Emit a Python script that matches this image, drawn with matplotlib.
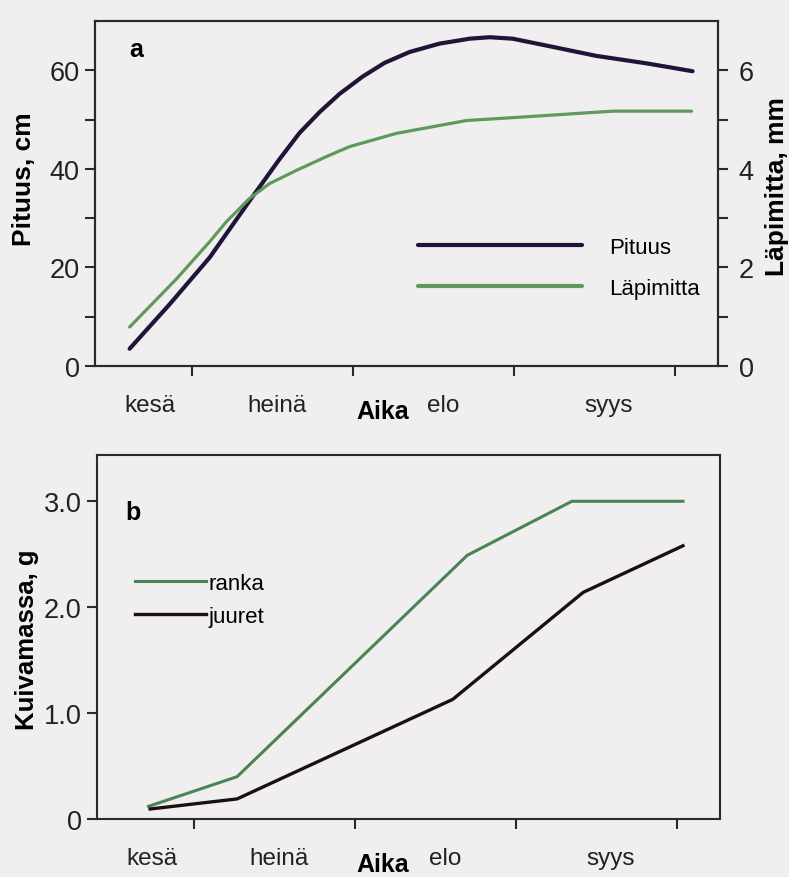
import matplotlib
matplotlib.use("Agg")
import matplotlib.pyplot as plt

plt.rcParams['font.family'] = ['Liberation Sans', 'DejaVu Sans']

# x in "month" units: ticks at 1..4 are the month boundaries
months = ["kesä", "heinä", "elo", "syys"]
month_pos = [0.74, 1.53, 2.56, 3.59]
month_ticks = [1, 2, 3, 4]

# panel a
pituus_x = [0.615, 0.863, 1.112, 1.360, 1.547, 1.671, 1.795, 1.919, 2.062, 2.199, 2.354, 2.540, 2.727,
            2.851, 2.994, 3.205, 3.516, 3.826, 4.112]
pituus_y = [3.5, 12.5, 22.0, 33.5, 42.0, 47.3, 51.5, 55.2, 58.7, 61.5, 63.7, 65.4, 66.4,
            66.7, 66.4, 65.0, 62.9, 61.4, 59.8]
lapimitta_x = [0.615, 0.907, 1.112, 1.217, 1.360, 1.484, 1.652, 1.839, 1.981, 2.273, 2.708, 3.099, 3.615, 4.106]
lapimitta_y = [0.79, 1.77, 2.52, 2.93, 3.40, 3.70, 3.97, 4.25, 4.45, 4.72, 4.98, 5.06, 5.17, 5.17]

# panel b
ranka_x = [0.72, 1.27, 2.70, 3.35, 4.04]
ranka_y = [0.12, 0.40, 2.49, 3.0, 3.0]
juuret_x = [0.73, 1.27, 2.61, 3.42, 4.04]
juuret_y = [0.095, 0.19, 1.13, 2.14, 2.58]

bg = '#f0eeef'
c_pit = '#1e1537'
c_lap = '#5f9a5c'
c_ranka = '#4a8455'
c_juur = '#1a1012'
c_axis = '#2a2a2a'

fig = plt.figure(figsize=(7.89, 8.78), dpi=100, facecolor=bg)


def style_axes(ax):
    ax.set_facecolor(bg)
    for s in ax.spines.values():
        s.set_color(c_axis)
        s.set_linewidth(1.5)
    ax.set_xlim(0.4, 4.27)
    ax.set_xticks(month_ticks)
    ax.set_xticklabels([])
    ax.set_xticks(month_pos, minor=True)
    ax.set_xticklabels(months, minor=True)
    ax.tick_params(axis='x', which='major', direction='out', length=7, width=1.5, color=c_axis)
    ax.tick_params(axis='x', which='minor', length=0, pad=20, labelsize=17.5, labelcolor='#222222')
    ax.tick_params(axis='y', which='both', direction='out', width=1.5, color=c_axis,
                   labelsize=19.5, labelcolor='#222222', pad=4)
    ax.tick_params(axis='y', which='major', length=7)
    ax.tick_params(axis='y', which='minor', length=7)


# ---- a ----
ax1 = fig.add_axes([0.1204, 0.582, 0.7896, 0.393])
style_axes(ax1)
ax1.set_ylim(0, 70)
ax1.set_yticks([0, 20, 40, 60])
ax1.set_yticks([10, 30, 50], minor=True)
ax1.plot(pituus_x, pituus_y, '-', color=c_pit, linewidth=3.0, label="Pituus",
         solid_capstyle='round', solid_joinstyle='round')
ax1.set_ylabel("Pituus, cm", fontsize=19, fontweight='bold', va='center')
ax1.yaxis.set_label_coords(-0.114, 0.545)
ax1.set_xlabel("Aika", fontsize=18, fontweight='bold')
ax1.xaxis.set_label_coords(0.462, -0.13)
ax1.xaxis.label.set_va('center')
ax1.text(0.066, 0.919, "a", transform=ax1.transAxes, fontsize=18, fontweight='bold',
         ha='center', va='center')

ax2 = ax1.twinx()
ax2.set_ylim(0, 7)
ax2.set_yticks([0, 2, 4, 6])
ax2.set_yticks([1, 3, 5], minor=True)
for s in ax2.spines.values():
    s.set_color(c_axis)
    s.set_linewidth(1.5)
ax2.tick_params(axis='y', which='both', direction='out', length=7, width=1.5, color=c_axis,
                labelsize=19.5, labelcolor='#222222', pad=8)
ax2.plot(lapimitta_x, lapimitta_y, '-', color=c_lap, linewidth=2.3, label="Läpimitta",
         solid_capstyle='round', solid_joinstyle='round')
ax2.set_ylabel("Läpimitta, mm", fontsize=19, fontweight='bold', va='center', rotation=90)
ax2.yaxis.set_label_coords(1.094, 0.523)

h1, l1 = ax1.get_legend_handles_labels()
h2, l2 = ax2.get_legend_handles_labels()
leg = ax2.legend(h1 + h2, l1 + l2, loc='center left', bbox_to_anchor=(0.518, 0.284),
                 frameon=False, fontsize=16, handlelength=7.4, handletextpad=1.2,
                 labelspacing=0.88, borderpad=0, borderaxespad=0)
leg.get_lines()[1].set_linewidth(3.0)

# ---- b ----
ax3 = fig.add_axes([0.123, 0.066, 0.7895, 0.415])
style_axes(ax3)
ax3.set_ylim(0, 3.44)
ax3.set_yticks([0, 1.0, 2.0, 3.0])
ax3.set_yticklabels(["0", "1.0", "2.0", "3.0"])
ax3.plot(ranka_x, ranka_y, '-', color=c_ranka, linewidth=2.2, label="ranka")
ax3.plot(juuret_x, juuret_y, '-', color=c_juur, linewidth=2.4, label="juuret")
ax3.set_ylabel("Kuivamassa, g", fontsize=18.5, fontweight='bold', va='center')
ax3.yaxis.set_label_coords(-0.113, 0.495)
ax3.set_xlabel("Aika", fontsize=18, fontweight='bold')
ax3.xaxis.set_label_coords(0.459, -0.124)
ax3.xaxis.label.set_va('center')
ax3.text(0.058, 0.843, "b", transform=ax3.transAxes, fontsize=18, fontweight='bold',
         ha='center', va='center')
ax3.legend(loc='center left', bbox_to_anchor=(0.061, 0.602), frameon=False, fontsize=16,
           handlelength=3.2, handletextpad=0.1, labelspacing=0.55, borderpad=0, borderaxespad=0)

fig.savefig('out.png', dpi=100, facecolor=bg)
